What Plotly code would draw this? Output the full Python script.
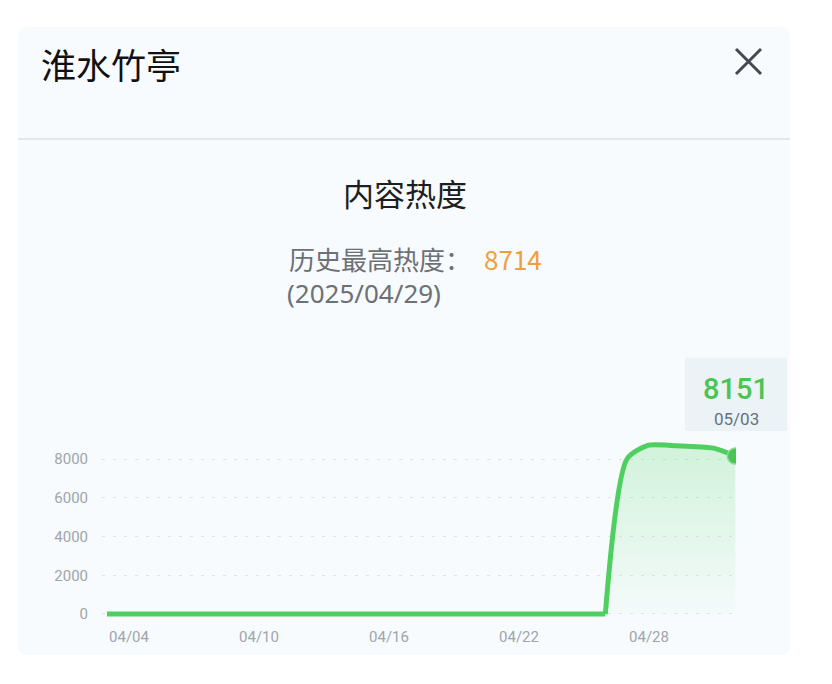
import plotly.graph_objects as go

# ---------------- data ----------------
dates = ["04/04", "04/05", "04/06", "04/07", "04/08", "04/09", "04/10", "04/11",
         "04/12", "04/13", "04/14", "04/15", "04/16", "04/17", "04/18", "04/19",
         "04/20", "04/21", "04/22", "04/23", "04/24", "04/25", "04/26", "04/27",
         "04/28", "04/29", "04/30", "05/01", "05/02", "05/03"]
heat = [0, 0, 0, 0, 0, 0, 0, 0,
        0, 0, 0, 0, 0, 0, 0, 0,
        0, 0, 0, 0, 0, 0, 0, 0,
        8000, 8714, 8700, 8650, 8560, 8151]
x_ticks = ["04/04", "04/10", "04/16", "04/22", "04/28"]
y_ticks = [0, 2000, 4000, 6000, 8000]
title_text = "淮水竹亭"
chart_title = "内容热度"
peak_label = "历史最高热度："
peak_value = 8714
peak_date = "2025/04/29"

# ---------------- geometry helpers (screen pixels) ----------------
OFF = 8                     # page body margin
FW, FH = 816, 668           # figure size
L, R, T, B = 102, 736, 428, 620   # plot area in screen pixels


def fx(x):
    return (x - L) / (R - L)


def fy(y):
    return (B - y) / (B - T)


CJK = "Noto Sans CJK SC, Noto Sans, sans-serif"
NUM = "Roboto, Noto Sans, sans-serif"
GREEN = "#4fcf5f"

# index of the last flat (zero) day, where the rise begins
k = max(i for i, v in enumerate(heat) if v == 0)

fig = go.Figure()
# flat part of the series
fig.add_trace(go.Scatter(
    x=dates[:k + 1], y=heat[:k + 1], mode="lines",
    line=dict(color=GREEN, width=5),
    hoverinfo="skip", showlegend=False,
))
# rising / smooth part of the series
fig.add_trace(go.Scatter(
    x=dates[k:], y=heat[k:], mode="lines",
    line=dict(color=GREEN, width=5, shape="spline", smoothing=0.7),
    fill="tozeroy",
    fillgradient=dict(type="vertical",
                      colorscale=[[0, "rgba(90,215,110,0.02)"],
                                  [1, "rgba(90,215,110,0.24)"]]),
    hoverinfo="skip", showlegend=False,
))
fig.add_trace(go.Scatter(
    x=[dates[-1]], y=[heat[-1]], mode="markers",
    marker=dict(size=16, color="#4cc453", line=dict(color="#86dc8e", width=1.5)),
    hoverinfo="skip", showlegend=False,
))

# card background (rounded rect)
cx0, cx1, cy0, cy1, r = 18, 790, 27, 655, 10
path = (f"M {fx(cx0 + r)} {fy(cy0)} L {fx(cx1 - r)} {fy(cy0)} "
        f"Q {fx(cx1)} {fy(cy0)} {fx(cx1)} {fy(cy0 + r)} "
        f"L {fx(cx1)} {fy(cy1 - r)} Q {fx(cx1)} {fy(cy1)} {fx(cx1 - r)} {fy(cy1)} "
        f"L {fx(cx0 + r)} {fy(cy1)} Q {fx(cx0)} {fy(cy1)} {fx(cx0)} {fy(cy1 - r)} "
        f"L {fx(cx0)} {fy(cy0 + r)} Q {fx(cx0)} {fy(cy0)} {fx(cx0 + r)} {fy(cy0)} Z")
shapes = [
    dict(type="path", xref="paper", yref="paper", path=path,
         fillcolor="#f7fbfd", line=dict(width=0), layer="below"),
    dict(type="line", xref="paper", yref="paper", x0=fx(cx0), x1=fx(cx1),
         y0=fy(139), y1=fy(139), line=dict(color="#e2e7ea", width=2), layer="below"),
    # close icon
    dict(type="line", xref="paper", yref="paper", x0=fx(736), y0=fy(49),
         x1=fx(761), y1=fy(74), line=dict(color="#45494f", width=3)),
    dict(type="line", xref="paper", yref="paper", x0=fx(736), y0=fy(74),
         x1=fx(761), y1=fy(49), line=dict(color="#45494f", width=3)),
    # tooltip box
    dict(type="rect", xref="paper", yref="paper", x0=fx(685), x1=fx(787),
         y0=fy(358), y1=fy(431), fillcolor="#ecf3f7", line=dict(width=0)),
]

annotations = [
    dict(text=title_text, x=fx(40), y=fy(63), xanchor="left", yanchor="middle",
         font=dict(family=CJK, size=35, color="#111111")),
    dict(text=chart_title, x=fx(405), y=fy(193), xanchor="center", yanchor="middle",
         font=dict(family=CJK, size=31, color="#1e1e1e")),
    dict(text=f"{peak_label}\u2002<span style='color:#eea03c'>{peak_value}</span>",
         x=fx(288), y=fy(258), xanchor="left", yanchor="middle",
         font=dict(family=CJK, size=26, color="#6d7075")),
    dict(text=f"({peak_date})", x=fx(286), y=fy(293), xanchor="left", yanchor="middle",
         font=dict(family="Noto Sans, sans-serif", size=26, color="#6d7075")),
    dict(text=str(heat[-1]), x=fx(736), y=fy(407), xanchor="center", yanchor="bottom",
         font=dict(family=NUM, size=29, color="#4cc453", weight=500)),
    dict(text=dates[-1], x=fx(736), y=fy(408), xanchor="center", yanchor="top",
         font=dict(family=NUM, size=17, color="#66707e")),
]
for a in annotations:
    a.update(xref="paper", yref="paper", showarrow=False, borderpad=0)

fig.update_layout(
    width=FW, height=FH,
    margin=dict(l=L - OFF, r=FW + OFF - R, t=T - OFF, b=FH + OFF - B, pad=0),
    paper_bgcolor="#ffffff", plot_bgcolor="rgba(0,0,0,0)",
    shapes=shapes, annotations=annotations,
    showlegend=False, hovermode=False,
    xaxis=dict(type="category", categoryorder="array", categoryarray=dates,
               range=[-0.23, 29.03], tickvals=x_ticks,
               showgrid=False, zeroline=False, showline=False, ticks="",
               ticklabelshift=22, ticklabelstandoff=6,
               tickfont=dict(family=NUM, size=15, color="#a0a5ab"), fixedrange=True),
    yaxis=dict(range=[-310, 9600], tickvals=y_ticks, showgrid=True,
               gridcolor="#dfe3e6", griddash="3px,8px", gridwidth=1,
               zeroline=False, showline=False, ticks="", ticklabelstandoff=13,
               tickfont=dict(family=NUM, size=15, color="#a0a5ab"), fixedrange=True),
)

fig.write_html("out.html")
